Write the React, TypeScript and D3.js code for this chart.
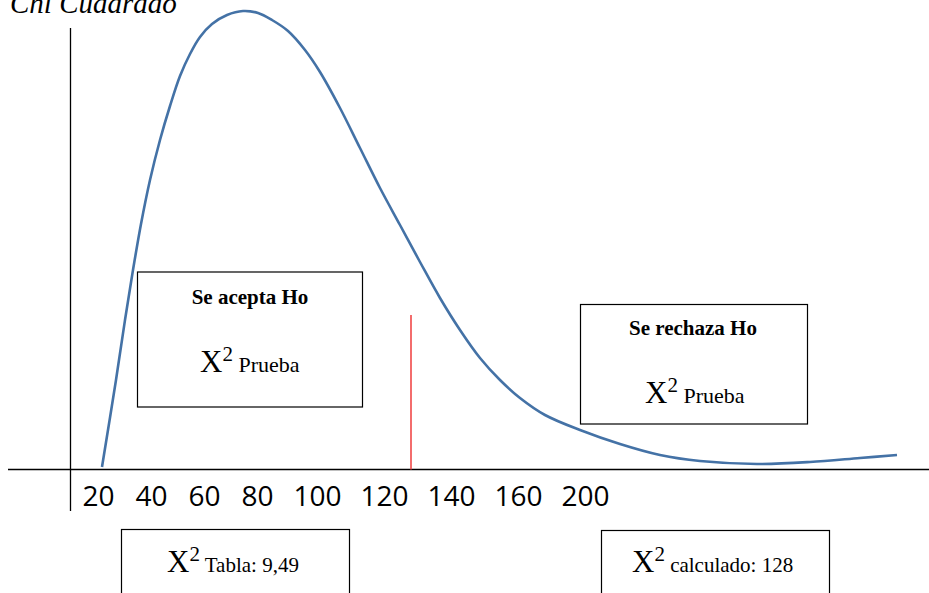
import React from "react";
import * as d3 from "d3";

// Curve of the chi-square sketch (data units: x = distance from vertical axis, y = height above baseline)
const curveX = [32, 46, 55, 63, 71, 80, 90, 100, 110, 120, 130, 142, 157, 173, 188, 202, 218, 235, 250, 270, 290, 310, 330, 350, 370, 390, 410, 430, 450, 475, 510, 550, 590, 630, 687, 740, 790, 827];
const curveY = [3, 90, 150, 200, 246, 290, 330, 364, 394, 416, 433, 446, 455, 459, 457, 450, 439, 420, 398, 362, 322, 282, 245, 208, 172, 140, 112, 90, 72, 55, 40, 26, 15, 9, 6, 8, 12, 15];

// Critical value marker (red line)
const criticalX = 341;
const criticalTop = 155;

// Tick labels under the horizontal axis
const tickLabels = ["20", "40", "60", "80", "100", "120", "140", "160", "200"];

const title = "Chi Cuadrado";

const W = 929;
const H = 593;

export default function App() {
  const xScale = d3.scaleLinear().domain([0, 859]).range([70, 929]);
  const yScale = d3.scaleLinear().domain([0, 460]).range([470, 10]);

  const pts: [number, number][] = curveX.map((x, i) => [x, curveY[i]]);
  const line = d3
    .line<[number, number]>()
    .x((d) => xScale(d[0]))
    .y((d) => yScale(d[1]))
    .curve(d3.curveCatmullRom.alpha(0.5));

  // label layout: text flow with digit width and gap
  const digitW = 14;
  const gap = 25;
  const centers: number[] = [];
  let c = 98.5;
  tickLabels.forEach((t, i) => {
    if (i > 0) {
      const prev = tickLabels[i - 1];
      c += (prev.length * digitW) / 2 + gap + (t.length * digitW) / 2;
    }
    centers.push(c);
  });

  const serif = "'Liberation Serif', 'Times New Roman', serif";
  const axisY = yScale(0) - 0.5;

  const chiText = (x: number, y: number, label: string, size: number) => (
    <text x={x} y={y} fontFamily={serif} fill="#000">
      <tspan fontSize={31}>X</tspan>
      <tspan fontSize={21} dy={-11}>2</tspan>
      <tspan fontSize={size} dy={11}>{" " + label}</tspan>
    </text>
  );

  return (
    <svg
      width={W}
      height={H}
      style={{ position: "absolute", left: 0, top: 0, background: "#fff" }}
    >
      <text x={10} y={13} fontFamily={serif} fontStyle="italic" fontSize={29} fill="#000">
        {title}
      </text>

      {/* axes */}
      <line x1={70.5} x2={70.5} y1={28} y2={511} stroke="#000" strokeWidth={1.3} />
      <line x1={8} x2={929} y1={axisY} y2={axisY} stroke="#000" strokeWidth={1.5} />

      {/* curve */}
      <path d={line(pts) || ""} fill="none" stroke="#4472A6" strokeWidth={2.6} />

      {/* critical value */}
      <line
        x1={xScale(criticalX)}
        x2={xScale(criticalX)}
        y1={yScale(criticalTop)}
        y2={axisY}
        stroke="#F04848"
        strokeWidth={1.6}
      />

      {/* tick labels */}
      {tickLabels.map((t, i) => (
        <text
          key={t}
          x={centers[i]}
          y={506}
          textAnchor="middle"
          fontFamily="'Open Sans', sans-serif"
          fontSize={28}
          fill="#000"
        >
          {t}
        </text>
      ))}

      {/* Se acepta box */}
      <rect x={137.5} y={272} width={225} height={135} fill="#fff" stroke="#000" strokeWidth={1.2} />
      <text x={250} y={304} textAnchor="middle" fontFamily={serif} fontWeight="bold" fontSize={21}>
        Se acepta Ho
      </text>
      {chiText(200, 372, "Prueba", 22)}

      {/* Se rechaza box */}
      <rect x={580.5} y={304.5} width={227} height={119.5} fill="#fff" stroke="#000" strokeWidth={1.2} />
      <text x={693} y={335} textAnchor="middle" fontFamily={serif} fontWeight="bold" fontSize={21}>
        Se rechaza Ho
      </text>
      {chiText(645, 403, "Prueba", 22)}

      {/* bottom boxes */}
      <rect x={121.5} y={529.5} width={228} height={100} fill="#fff" stroke="#000" strokeWidth={1.2} />
      {chiText(167, 572, "Tabla: 9,49", 21)}
      <rect x={601.5} y={530.5} width={228} height={100} fill="#fff" stroke="#000" strokeWidth={1.2} />
      {chiText(632, 572, "calculado: 128", 21)}
    </svg>
  );
}
